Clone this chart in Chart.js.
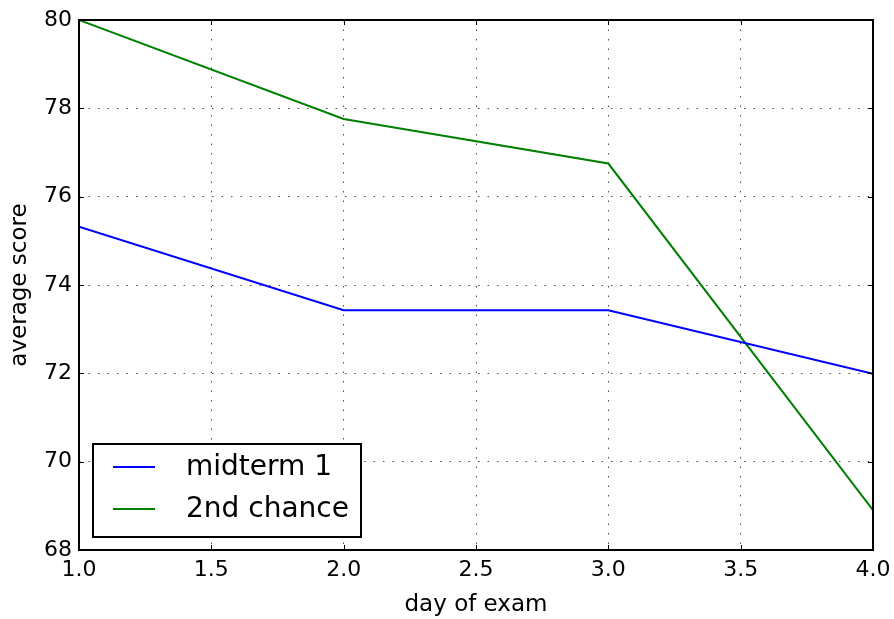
<!DOCTYPE html>
<html>
<head>
<meta charset="utf-8">
<script src="https://cdn.jsdelivr.net/npm/chart.js@4"></script>
<style>
  html, body { margin: 0; padding: 0; background: #fff; }
  #wrap { width: 894px; height: 619px; }
</style>
</head>
<body>
<div id="wrap"><canvas id="c" width="894" height="619"></canvas></div>
<script>
const days = [1, 2, 3, 4];
const midterm1 = [75.32, 73.43, 73.43, 71.99];
const secondChance = [80.0, 77.76, 76.75, 68.9];
const seriesLabels = ['midterm 1', '2nd chance'];
const seriesColors = ['#0000ff', '#008000'];
const xTicks = [1.0, 1.5, 2.0, 2.5, 3.0, 3.5, 4.0];
const yTicks = [68, 70, 72, 74, 76, 78, 80];
const xTitle = 'day of exam';
const yTitle = 'average score';

const FONT = "'DejaVu Sans', 'Bitstream Vera Sans', sans-serif";

function pts(vals) { return days.map((d, i) => ({ x: d, y: vals[i] })); }

const frameTicks = {
  id: 'frameTicks',
  afterDatasetsDraw(chart) {
    const ctx = chart.ctx;
    const a = chart.chartArea;
    const xs = chart.scales.x, ys = chart.scales.y;
    ctx.save();
    ctx.strokeStyle = '#000';
    ctx.lineWidth = 1;
    const L = 5;
    ctx.beginPath();
    xTicks.forEach(v => {
      const px = Math.round(xs.getPixelForValue(v)) + 0.5;
      ctx.moveTo(px, a.bottom); ctx.lineTo(px, a.bottom - L);
      ctx.moveTo(px, a.top); ctx.lineTo(px, a.top + L);
    });
    yTicks.forEach(v => {
      const py = Math.round(ys.getPixelForValue(v)) + 0.5;
      ctx.moveTo(a.left, py); ctx.lineTo(a.left + L, py);
      ctx.moveTo(a.right, py); ctx.lineTo(a.right - L, py);
    });
    ctx.stroke();
    ctx.lineWidth = 2;
    ctx.strokeRect(a.left, a.top, a.right - a.left, a.bottom - a.top);

    // legend box
    const bx = 93, by = 444, bw = 268, bh = 93;
    ctx.fillStyle = '#fff';
    ctx.fillRect(bx, by, bw, bh);
    ctx.lineWidth = 2;
    ctx.strokeStyle = '#000';
    ctx.strokeRect(bx, by, bw, bh);
    ctx.font = '28px ' + FONT;
    ctx.textBaseline = 'middle';
    ctx.textAlign = 'left';
    chart.data.datasets.forEach((ds, i) => {
      const y = by + 23 + i * 42;
      ctx.strokeStyle = ds.borderColor;
      ctx.lineWidth = 2;
      ctx.beginPath();
      ctx.moveTo(113, y); ctx.lineTo(155, y);
      ctx.stroke();
      ctx.fillStyle = '#000';
      ctx.fillText(ds.label, 186, y + 1);
    });
    ctx.restore();
  }
};

new Chart(document.getElementById('c'), {
  type: 'line',
  data: {
    datasets: [
      { label: seriesLabels[0], data: pts(midterm1), borderColor: seriesColors[0], backgroundColor: seriesColors[0], borderWidth: 2, pointRadius: 0, tension: 0, fill: false },
      { label: seriesLabels[1], data: pts(secondChance), borderColor: seriesColors[1], backgroundColor: seriesColors[1], borderWidth: 2, pointRadius: 0, tension: 0, fill: false }
    ]
  },
  options: {
    responsive: false,
    animation: false,
    devicePixelRatio: 1,
    layout: { padding: { top: 20, right: 21, left: 0, bottom: 0 } },
    plugins: { legend: { display: false }, tooltip: { enabled: false } },
    scales: {
      x: {
        type: 'linear', min: 1, max: 4,
        afterBuildTicks(s) { s.ticks = xTicks.map(v => ({ value: v })); },
        afterFit(s) { s.height = 69; s.paddingLeft = 0; s.paddingRight = 0; },
        ticks: { color: '#000', padding: 7, font: { family: FONT, size: 22 }, callback: v => Number(v).toFixed(1), maxRotation: 0 },
        grid: { color: 'rgba(0,0,0,0.7)', lineWidth: 1, drawTicks: false },
        border: { display: false, dash: [1.5, 8] },
        title: { display: true, text: xTitle, color: '#000', font: { family: FONT, size: 23 }, padding: { top: 0, bottom: 0 } }
      },
      y: {
        type: 'linear', min: 68, max: 80,
        afterBuildTicks(s) { s.ticks = yTicks.map(v => ({ value: v })); },
        afterFit(s) { s.width = 79; s.paddingTop = 0; s.paddingBottom = 0; },
        ticks: { color: '#000', padding: 7, font: { family: FONT, size: 22 }, callback: v => String(v) },
        grid: { color: 'rgba(0,0,0,0.7)', lineWidth: 1, drawTicks: false },
        border: { display: false, dash: [1.5, 8] },
        title: { display: true, text: yTitle, color: '#000', font: { family: FONT, size: 23 }, padding: { top: 6, bottom: 0 } }
      }
    }
  },
  plugins: [frameTicks]
});
</script>
</body>
</html>
